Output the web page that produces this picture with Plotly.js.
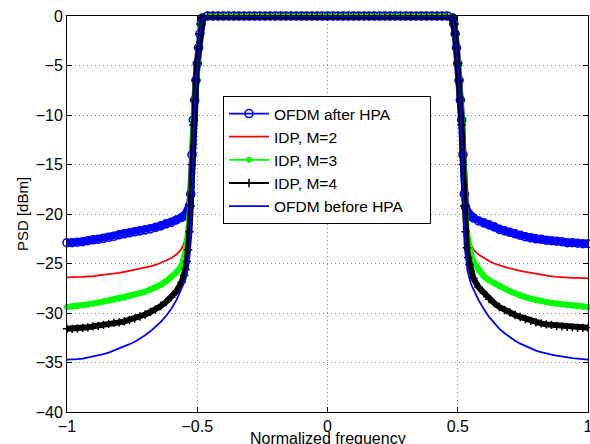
<!DOCTYPE html>
<html>
<head>
<meta charset="utf-8">
<script src="https://cdn.plot.ly/plotly-3.0.1.min.js"></script>
<style>html,body{margin:0;padding:0;background:#fff;}#chart{width:590px;height:444px;}</style>
</head>
<body>
<div id="chart"></div>
<script>
// Normalized frequency grid
var freq = [
  -1,-0.98,-0.96,-0.94,-0.92,-0.9,-0.88,-0.86,-0.84,-0.82,-0.8,-0.78,-0.76,-0.74,-0.72,-0.7,-0.68,-0.66,-0.64,-0.62,-0.6,-0.58,-0.56,
  -0.55,-0.545,-0.54,-0.535,-0.53,-0.525,-0.52,-0.515,-0.51,-0.505,-0.5,-0.495,-0.49,-0.485,-0.48,
  -0.46,-0.44,-0.42,-0.4,-0.38,-0.36,-0.34,-0.32,-0.3,-0.28,-0.26,-0.24,-0.22,-0.2,-0.18,-0.16,-0.14,-0.12,-0.1,-0.08,-0.06,-0.04,-0.02,
  0,0.02,0.04,0.06,0.08,0.1,0.12,0.14,0.16,0.18,0.2,0.22,0.24,0.26,0.28,0.3,0.32,0.34,0.36,0.38,0.4,0.42,0.44,0.46,
  0.48,0.485,0.49,0.495,0.5,0.505,0.51,0.515,0.52,0.525,0.53,0.535,0.54,0.545,0.55,
  0.56,0.58,0.6,0.62,0.64,0.66,0.68,0.7,0.72,0.74,0.76,0.78,0.8,0.82,0.84,0.86,0.88,0.9,0.92,0.94,0.96,0.98,1
];

// PSD [dBm] for each curve
var ofdmAfterHPA = [
  -22.9,-22.9,-22.85,-22.8,-22.7,-22.6,-22.55,-22.45,-22.35,-22.25,-22.1,-22.0,-21.9,-21.8,-21.7,-21.6,-21.5,-21.35,-21.2,-21.0,-20.85,-20.6,-20.35,
  -20.2,-20.1,-19.9,-19.6,-19.2,-18,-14,-10.5,-8.5,-6.5,-4.8,-3.2,-1.8,-0.8,-0.2,
  0,0,0,0,0,0,0,0,0,0,0,0,0,0,0,0,0,0,0,0,0,0,0,
  0,0,0,0,0,0,0,0,0,0,0,0,0,0,0,0,0,0,0,0,0,0,0,0,
  -0.2,-0.8,-1.8,-3.2,-4.8,-6.5,-8.5,-10.5,-14,-18,-19.3,-19.7,-19.95,-20.1,-20.2,
  -20.4,-20.7,-20.9,-21.1,-21.3,-21.55,-21.7,-21.85,-22.0,-22.15,-22.3,-22.4,-22.5,-22.55,-22.65,-22.7,-22.75,-22.8,-22.9,-22.9,-22.95,-23.0,-23.0
];
var idpM2 = [
  -26.4,-26.4,-26.35,-26.35,-26.3,-26.3,-26.2,-26.15,-26.1,-26.0,-25.95,-25.85,-25.75,-25.65,-25.55,-25.45,-25.3,-25.15,-24.95,-24.7,-24.45,-24.1,-23.5,
  -22.9,-22.4,-21.8,-21.0,-19.8,-18,-14,-10.5,-8.5,-6.5,-4.8,-3.2,-1.8,-0.8,-0.2,
  0,0,0,0,0,0,0,0,0,0,0,0,0,0,0,0,0,0,0,0,0,0,0,
  0,0,0,0,0,0,0,0,0,0,0,0,0,0,0,0,0,0,0,0,0,0,0,0,
  -0.2,-0.8,-1.8,-3.2,-4.8,-6.5,-8.5,-10.5,-14,-18,-20,-21.2,-22.0,-22.6,-23.0,
  -23.6,-24.1,-24.45,-24.75,-25.0,-25.2,-25.35,-25.5,-25.65,-25.75,-25.85,-25.95,-26.05,-26.15,-26.2,-26.3,-26.35,-26.4,-26.4,-26.45,-26.45,-26.5,-26.5
];
var idpM3 = [
  -29.4,-29.35,-29.3,-29.25,-29.15,-29.05,-28.95,-28.85,-28.75,-28.65,-28.55,-28.45,-28.3,-28.15,-28.0,-27.85,-27.65,-27.45,-27.15,-26.8,-26.4,-25.9,-25.2,
  -24.5,-23.8,-22.9,-21.8,-20.3,-18.3,-14,-10.5,-8.5,-6.5,-4.8,-3.2,-1.8,-0.8,-0.2,
  0,0,0,0,0,0,0,0,0,0,0,0,0,0,0,0,0,0,0,0,0,0,0,
  0,0,0,0,0,0,0,0,0,0,0,0,0,0,0,0,0,0,0,0,0,0,0,0,
  -0.2,-0.8,-1.8,-3.2,-4.8,-6.5,-8.5,-10.5,-14,-18.3,-20.3,-21.8,-22.8,-23.5,-24.0,
  -24.8,-25.7,-26.3,-26.7,-27.0,-27.3,-27.55,-27.8,-28.0,-28.25,-28.4,-28.55,-28.7,-28.8,-28.9,-29.0,-29.05,-29.1,-29.2,-29.25,-29.3,-29.35,-29.4
];
var idpM4 = [
  -31.6,-31.6,-31.55,-31.5,-31.45,-31.35,-31.3,-31.2,-31.1,-31.0,-30.95,-30.85,-30.7,-30.55,-30.35,-30.15,-29.9,-29.65,-29.3,-28.9,-28.4,-27.8,-26.9,
  -26.2,-25.6,-24.8,-23.6,-21.8,-19.2,-15,-11,-8.5,-6.5,-4.8,-3.2,-1.8,-0.8,-0.2,
  0,0,0,0,0,0,0,0,0,0,0,0,0,0,0,0,0,0,0,0,0,0,0,
  0,0,0,0,0,0,0,0,0,0,0,0,0,0,0,0,0,0,0,0,0,0,0,0,
  -0.2,-0.8,-1.8,-3.2,-4.8,-6.5,-8.5,-11,-15,-19.2,-21.8,-23.4,-24.4,-25.1,-25.7,
  -26.5,-27.4,-28.0,-28.6,-29.0,-29.4,-29.7,-29.95,-30.2,-30.4,-30.6,-30.8,-30.95,-31.05,-31.15,-31.2,-31.3,-31.35,-31.4,-31.45,-31.5,-31.5,-31.5
];
var ofdmBeforeHPA = [
  -34.7,-34.7,-34.65,-34.6,-34.5,-34.4,-34.3,-34.15,-34.0,-33.8,-33.6,-33.4,-33.15,-32.9,-32.6,-32.25,-31.85,-31.4,-30.9,-30.3,-29.6,-28.7,-27.6,
  -27.0,-26.6,-26.0,-25.2,-24.0,-21.5,-16.5,-12,-9,-6.8,-5.0,-3.3,-1.9,-0.9,-0.3,
  0,0,0,0,0,0,0,0,0,0,0,0,0,0,0,0,0,0,0,0,0,0,0,
  0,0,0,0,0,0,0,0,0,0,0,0,0,0,0,0,0,0,0,0,0,0,0,0,
  -0.3,-0.9,-1.9,-3.3,-5.0,-6.8,-9,-12,-16.5,-21.5,-24.0,-25.2,-26.0,-26.6,-27.0,
  -27.6,-28.7,-29.6,-30.4,-31.0,-31.6,-32.05,-32.45,-32.8,-33.1,-33.35,-33.6,-33.8,-33.95,-34.1,-34.2,-34.3,-34.4,-34.5,-34.55,-34.6,-34.65,-34.7
];

var seriesNames = ['OFDM after HPA','IDP, M=2','IDP, M=3','IDP, M=4','OFDM before HPA'];
var xTicks = [-1,-0.5,0,0.5,1];
var yTicks = [0,-5,-10,-15,-20,-25,-30,-35,-40];
var xTitle = 'Normalized frequency';
var yTitle = 'PSD [dBm]';

var FONT = '"Liberation Sans", Arial, Helvetica, sans-serif';
var PAD = '\u00a0\u00a0\u00a0\u00a0\u00a0';  // widens the legend box like the original

// The densely packed markers of the original form a solid band; a wide
// under-stroke of the same data reproduces that band.
function band(y, color, w) {
  return {x: freq, y: y, type: 'scatter', mode: 'lines', showlegend: false, hoverinfo: 'skip',
          line: {color: color, width: w}};
}

var traces = [
  band(ofdmAfterHPA, '#0000ff', 7),
  {x: freq, y: ofdmAfterHPA, name: seriesNames[0], type: 'scatter', mode: 'lines+markers', cliponaxis: false,
   line: {color: '#0000ff', width: 1.8},
   marker: {symbol: 'circle-open', size: 8, color: '#0000ff', line: {color: '#0000ff', width: 1.6}}},
  {x: freq, y: idpM2, name: seriesNames[1], type: 'scatter', mode: 'lines',
   line: {color: '#ff0000', width: 1.8}},
  band(idpM3, '#00ff00', 6),
  {x: freq, y: idpM3, name: seriesNames[2], type: 'scatter', mode: 'lines+markers', cliponaxis: false,
   line: {color: '#00ff00', width: 1.8},
   marker: {symbol: 'circle', size: 6, color: '#00ff00'}},
  band(idpM4, '#000000', 6),
  {x: freq, y: idpM4, name: seriesNames[3], type: 'scatter', mode: 'lines+markers', cliponaxis: false,
   line: {color: '#000000', width: 1.8},
   marker: {symbol: 'cross-thin', size: 6, color: '#000000', line: {color: '#000000', width: 1.5}}},
  {x: freq, y: ofdmBeforeHPA, name: seriesNames[4] + PAD, type: 'scatter', mode: 'lines',
   line: {color: '#0000ff', width: 1.8}}
];

var axisCommon = {
  showline: true, linecolor: '#000', linewidth: 1, mirror: 'ticks',
  ticks: 'inside', ticklen: 5, tickwidth: 1, tickcolor: '#000',
  showgrid: true, gridcolor: '#8a8a8a', griddash: '1px,3px', gridwidth: 1,
  zeroline: false, ticklabeloverflow: 'allow',
  tickfont: {family: FONT, size: 16, color: '#000'}
};

var layout = {
  width: 590, height: 444,
  margin: {l: 67, r: 2, t: 16, b: 32, pad: 0},
  paper_bgcolor: '#fff', plot_bgcolor: '#fff',
  font: {family: FONT, size: 16, color: '#000'},
  showlegend: true,
  xaxis: Object.assign({}, axisCommon, {
    range: [-1, 1], tickmode: 'array', tickvals: xTicks
  }),
  yaxis: Object.assign({}, axisCommon, {
    range: [-40, 0], tickmode: 'array', tickvals: yTicks, automargin: true,
    title: {text: yTitle, font: {family: FONT, size: 15, color: '#000'}, standoff: 3}
  }),
  annotations: [{
    text: xTitle, xref: 'paper', yref: 'paper', x: 0.5, y: -0.067,
    xanchor: 'center', yanchor: 'middle', showarrow: false,
    font: {family: FONT, size: 16, color: '#000'}
  }],
  legend: {
    x: 0.2994, y: 0.798, xanchor: 'left', yanchor: 'top',
    bgcolor: '#fff', bordercolor: '#000', borderwidth: 1,
    font: {family: FONT, size: 15.5, color: '#000'},
    itemwidth: 40, tracegroupgap: 0
  }
};

Plotly.newPlot('chart', traces, layout, {displayModeBar: false, staticPlot: true});
</script>
</body>
</html>
